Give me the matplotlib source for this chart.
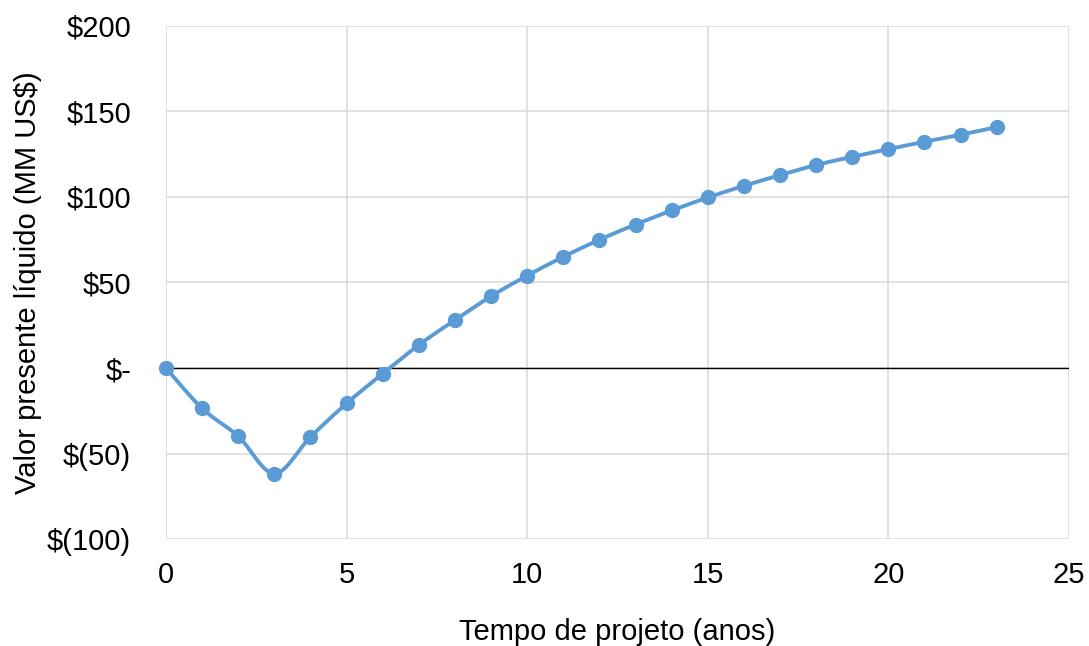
import numpy as np
import matplotlib
matplotlib.use('Agg')
import matplotlib.pyplot as plt
from matplotlib.ticker import FuncFormatter

plt.rcParams['font.family'] = ['Liberation Sans', 'DejaVu Sans']

# Valor presente liquido acumulado por ano (MM US$)
anos = list(range(0, 24))
vpl = [0.0, -23.6, -39.9, -61.7, -40.3, -20.7, -3.3, 13.5, 28.0, 42.0,
       54.0, 65.0, 75.0, 83.9, 92.1, 99.7, 106.5, 112.8, 118.7, 123.5,
       128.0, 132.3, 136.4, 140.9]

x_ticks = [0, 5, 10, 15, 20, 25]
y_ticks = [-100, -50, 0, 50, 100, 150, 200]

COR = '#5b9bd5'


def smooth_curve(x, y, n=30):
    # curva suavizada por segmentos de Bezier (estilo Excel)
    x = np.asarray(x, float)
    y = np.asarray(y, float)
    px, py = [], []
    for i in range(len(x) - 1):
        x0, y0 = (x[i - 1], y[i - 1]) if i > 0 else (x[i], y[i])
        x3, y3 = (x[i + 2], y[i + 2]) if i + 2 < len(x) else (x[i + 1], y[i + 1])
        c1x = x[i] + (x[i + 1] - x0) / 6
        c1y = y[i] + (y[i + 1] - y0) / 6
        c2x = x[i + 1] - (x3 - x[i]) / 6
        c2y = y[i + 1] - (y3 - y[i]) / 6
        t = np.linspace(0, 1, n)
        bx = ((1 - t) ** 3 * x[i] + 3 * (1 - t) ** 2 * t * c1x
              + 3 * (1 - t) * t ** 2 * c2x + t ** 3 * x[i + 1])
        by = ((1 - t) ** 3 * y[i] + 3 * (1 - t) ** 2 * t * c1y
              + 3 * (1 - t) * t ** 2 * c2y + t ** 3 * y[i + 1])
        px.extend(bx)
        py.extend(by)
    return np.array(px), np.array(py)


def moeda(v, pos):
    if v == 0:
        return '$-'
    if v < 0:
        return f'$({int(abs(v))})'
    return f'${int(v)}'


fig = plt.figure(figsize=(10.89, 6.46), dpi=100)
ax = fig.add_axes([0.1524, 0.1656, 0.8292, 0.7942])

ax.set_xlim(0, 25)
ax.set_ylim(-100, 200)
ax.set_xticks(x_ticks)
ax.set_yticks(y_ticks)
ax.yaxis.set_major_formatter(FuncFormatter(moeda))

ax.grid(True, color='#d9d9d9', linewidth=1.1)
ax.set_axisbelow(True)
for s in ax.spines.values():
    s.set_visible(False)
ax.tick_params(length=0, labelsize=21, colors='black')
ax.tick_params(axis='x', pad=16)
ax.tick_params(axis='y', pad=25)

ax.axhline(0, color='black', linewidth=1.0, zorder=2)

sx, sy = smooth_curve(anos, vpl)
ax.plot(sx, sy, color=COR, linewidth=2.8, zorder=3, clip_on=False)
ax.plot(anos, vpl, 'o', color=COR, markersize=10, zorder=4, clip_on=False)

ax.set_xlabel('Tempo de projeto (anos)', fontsize=21, labelpad=21)
ax.set_ylabel('Valor presente líquido (MM US$)', fontsize=21, labelpad=4)

fig.savefig('out.png', dpi=100)
